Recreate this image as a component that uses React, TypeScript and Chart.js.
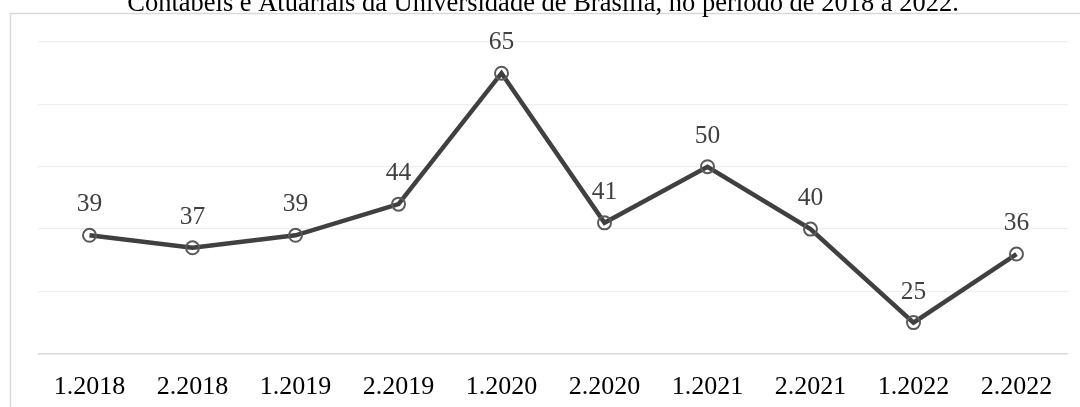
import React, { useEffect, useRef } from "react";
import { Chart, registerables } from "chart.js";

Chart.register(...registerables);

const categories = ["1.2018", "2.2018", "1.2019", "2.2019", "1.2020", "2.2020", "1.2021", "2.2021", "1.2022", "2.2022"];
const values = [39, 37, 39, 44, 65, 41, 50, 40, 25, 36];
const yMin = 20;
const yMax = 70;
const yStep = 10;
const titleText = "Contábeis e Atuariais da Universidade de Brasília, no período de 2018 a 2022.";

const SERIF = "'Liberation Serif', 'Times New Roman', serif";
const CANVAS_H = 421;

const decorPlugin = {
  id: "decor",
  beforeDraw(chart: any) {
    const ctx = chart.ctx;
    ctx.save();
    ctx.fillStyle = "#ffffff";
    ctx.fillRect(0, 0, chart.width, chart.height);
    ctx.strokeStyle = "#d9d9d9";
    ctx.lineWidth = 1.5;
    ctx.beginPath();
    ctx.moveTo(10.5, chart.height);
    ctx.lineTo(10.5, 13.5);
    ctx.lineTo(chart.width, 13.5);
    ctx.stroke();
    ctx.fillStyle = "#000000";
    ctx.font = `26.5px ${SERIF}`;
    ctx.textAlign = "center";
    ctx.textBaseline = "alphabetic";
    ctx.fillText(titleText, 543, 11);
    ctx.restore();
  },
  afterDatasetsDraw(chart: any) {
    const ctx = chart.ctx;
    const meta = chart.getDatasetMeta(0);
    ctx.save();
    ctx.fillStyle = "#404040";
    ctx.font = `25.5px ${SERIF}`;
    ctx.textAlign = "center";
    ctx.textBaseline = "alphabetic";
    meta.data.forEach((pt: any, i: number) => {
      ctx.fillText(String(values[i]), pt.x, pt.y - 24);
    });
    ctx.restore();
  },
};

export default function App() {
  const ref = useRef<HTMLCanvasElement | null>(null);
  useEffect(() => {
    if (!ref.current) return;
    const chart = new Chart(ref.current, {
      type: "line",
      data: {
        labels: categories,
        datasets: [
          {
            data: values,
            borderColor: "#404040",
            borderWidth: 4.5,
            pointRadius: 6.5,
            pointBorderWidth: 2,
            pointBorderColor: "#5a5a5a",
            pointBackgroundColor: "rgba(0,0,0,0)",
            tension: 0,
          },
        ],
      },
      options: {
        responsive: false,
        animation: false,
        layout: { padding: { left: 38, right: 12, top: 42, bottom: 0 } },
        plugins: { legend: { display: false }, tooltip: { enabled: false }, title: { display: false } },
        scales: {
          x: {
            offset: true,
            grid: { display: false, drawTicks: false },
            border: { display: false },
            ticks: { color: "#000000", font: { family: SERIF, size: 26 }, padding: 18, maxRotation: 0, autoSkip: false },
          },
          y: {
            min: yMin,
            max: yMax,
            ticks: { display: false, stepSize: yStep },
            border: { display: false },
            grid: {
              drawTicks: false,
              lineWidth: (c: any) => (c.tick && c.tick.value === yMin ? 1.5 : 1.2),
              color: (c: any) => (c.tick && c.tick.value === yMin ? "#d9d9d9" : "#efefef"),
            },
          },
        },
      },
      plugins: [decorPlugin],
    });
    return () => chart.destroy();
  }, []);
  return (
    <div style={{ position: "fixed", left: 0, top: 0, width: 1080, height: 407, overflow: "hidden" }}>
      <canvas ref={ref} width={1080} height={CANVAS_H} style={{ display: "block" }} />
    </div>
  );
}
